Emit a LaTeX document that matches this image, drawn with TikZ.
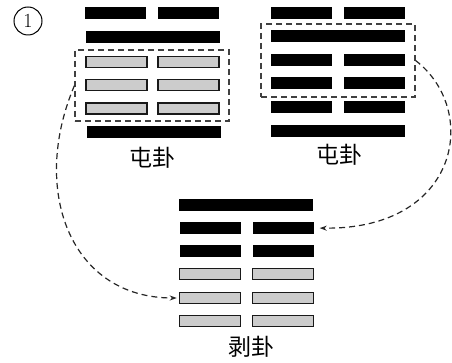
\documentclass[tikz,border=0pt]{standalone}
\usepackage{fontspec}
\newfontfamily\cjk{Noto Sans CJK SC}
\usetikzlibrary{arrows.meta}
\tikzset{
  blk/.style={fill=black, draw=none, inner sep=0pt, minimum height=12pt},
  gry/.style={fill=gray!40, draw=gray!20!black, line width=1.5pt, inner sep=0pt, minimum height=11pt},
  half/.style={minimum width=61pt},
  full/.style={minimum width=134pt},
  selbox/.style={draw=gray!50!black, dash pattern=on 6pt off 4pt, line width=1.1pt, inner sep=0pt},
  link/.style={draw=black!85, dash pattern=on 6pt off 4pt, line width=1.2pt, -{Stealth[length=7pt,width=5pt]}},
  lbl/.style={font=\cjk\fontsize{23}{23}\selectfont, inner sep=0pt}
}
\begin{document}
\begin{tikzpicture}[x=1pt,y=-1pt]
\useasboundingbox (0,0) rectangle (452,363);
% circled number
\node[draw, circle, line width=1pt, minimum size=28pt, inner sep=0pt, font=\fontsize{20}{20}\selectfont] (num) at (28,21) {1};
% left hexagram
\node[blk,half] (l1a) at (115.5,13.5) {};
\node[blk,half] (l1b) at (188.5,13.5) {};
\node[blk,full] (l2) at (152.5,37.5) {};
\node[gry,half] (l3a) at (116.5,62) {};
\node[gry,half] (l3b) at (188.5,62) {};
\node[gry,half] (l4a) at (116.5,85) {};
\node[gry,half] (l4b) at (188.5,85) {};
\node[gry,half] (l5a) at (116.5,108.5) {};
\node[gry,half] (l5b) at (188.5,108.5) {};
\node[blk,full] (l6) at (153.5,132.5) {};
\node[selbox, minimum width=154pt, minimum height=71pt] (lbox) at (152,85.5) {};
\node[lbl] (llab) at (152,158) {屯卦};
% right hexagram
\node[blk,half] (r1a) at (301,13) {};
\node[blk,half] (r1b) at (374,13) {};
\node[blk,full] (r2) at (337.5,36.5) {};
\node[blk,half] (r3a) at (301,60) {};
\node[blk,half] (r3b) at (374,60) {};
\node[blk,half] (r4a) at (301,83.5) {};
\node[blk,half] (r4b) at (374,83.5) {};
\node[blk,half] (r5a) at (301,107.5) {};
\node[blk,half] (r5b) at (374,107.5) {};
\node[blk,full] (r6) at (337.5,131) {};
\node[selbox, minimum width=154pt, minimum height=73pt] (rbox) at (338,60.5) {};
\node[lbl] (rlab) at (339,155) {屯卦};
% bottom hexagram
\node[blk,full] (b1) at (246,205) {};
\node[blk,half] (b2a) at (210,228) {};
\node[blk,half] (b2b) at (283,228) {};
\node[blk,half] (b3a) at (210,251) {};
\node[blk,half] (b3b) at (283,251) {};
\node[gry,half] (b4a) at (210,274) {};
\node[gry,half] (b4b) at (283,274) {};
\node[gry,half] (b5a) at (210,298) {};
\node[gry,half] (b5b) at (283,298) {};
\node[gry,half] (b6a) at (210,321) {};
\node[gry,half] (b6b) at (283,321) {};
\node[lbl] (blab) at (251,347) {剥卦};
% connectors
\draw[link, shorten >=2pt] (lbox.west) .. controls (30,190) and (70,298) .. (b5a.west);
\draw[link, shorten >=6pt] (rbox.east) .. controls (480,110) and (460,230) .. (b2b.east);
\end{tikzpicture}
\end{document}
